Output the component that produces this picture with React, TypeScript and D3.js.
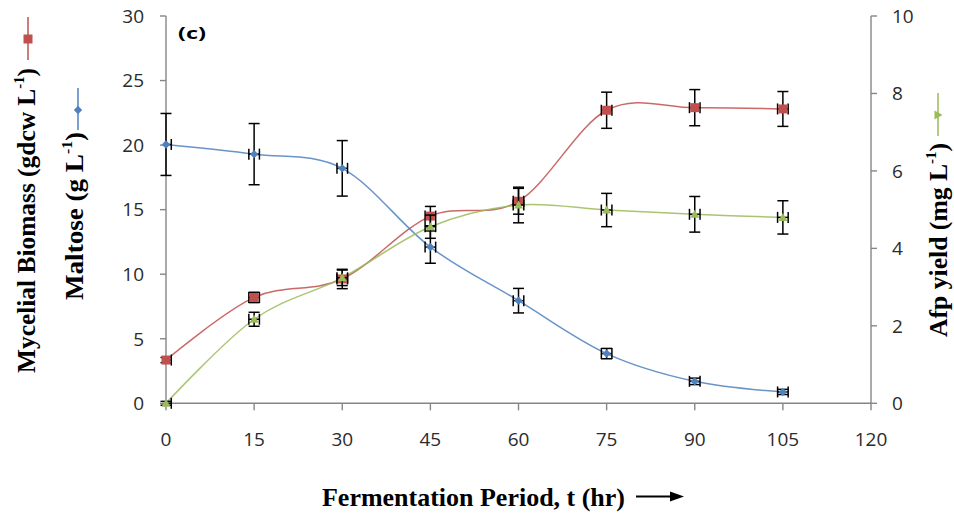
import React from 'react';
import * as d3 from 'd3';

// Sampling times (hr)
const hours = [0, 15, 30, 45, 60, 75, 90, 105];
// Mycelial biomass (gdcw/L) with standard deviation
const biomass = [3.35, 8.2, 9.63, 14.5, 15.65, 22.7, 22.9, 22.8];
const biomassErr = [0.2, 0.4, 0.75, 0.75, 1.0, 1.4, 1.4, 1.35];
// Residual maltose (g/L) with standard deviation
const maltose = [20.05, 19.3, 18.2, 12.1, 7.95, 3.85, 1.7, 0.88];
const maltoseErr = [2.4, 2.37, 2.15, 1.25, 0.95, 0.4, 0.25, 0.2];
// Afp yield (mg/L) with standard deviation
const afp = [0, 2.17, 3.24, 4.56, 5.12, 4.99, 4.88, 4.8];
const afpErr = [0.05, 0.18, 0.2, 0.3, 0.46, 0.43, 0.46, 0.43];
// Horizontal (time) error
const hourErr = 0.9;

const xTicks = [0, 15, 30, 45, 60, 75, 90, 105, 120];
const leftTicks = [0, 5, 10, 15, 20, 25, 30];
const rightTicks = [0, 2, 4, 6, 8, 10];

const RED = '#C0504D';
const BLUE = '#4F81BD';
const GREEN = '#9BBB59';
const AXIS = '#868686';

const W = 954;
const H = 516;
const left = 166;
const right = 871;
const top = 16;
const bottom = 403.3;

const x = d3.scaleLinear().domain([0, 120]).range([left, right]);
const yL = d3.scaleLinear().domain([0, 30]).range([bottom, top]);
const yR = d3.scaleLinear().domain([0, 10]).range([bottom, top]);

type Series = {
  key: string;
  values: number[];
  errs: number[];
  y: d3.ScaleLinear<number, number>;
  color: string;
  marker: 'square' | 'diamond' | 'triangle';
};

const series: Series[] = [
  { key: 'biomass', values: biomass, errs: biomassErr, y: yL, color: RED, marker: 'square' },
  { key: 'maltose', values: maltose, errs: maltoseErr, y: yL, color: BLUE, marker: 'diamond' },
  { key: 'afp', values: afp, errs: afpErr, y: yR, color: GREEN, marker: 'triangle' },
];

function Marker({ kind, cx, cy, color }: { kind: string; cx: number; cy: number; color: string }) {
  if (kind === 'square') {
    return <rect x={cx - 4.5} y={cy - 4.5} width={9} height={9} fill={color} />;
  }
  if (kind === 'diamond') {
    return <path d={`M${cx},${cy - 4.2}L${cx + 4.2},${cy}L${cx},${cy + 4.2}L${cx - 4.2},${cy}Z`} fill={color} />;
  }
  return <path d={`M${cx},${cy - 4.5}L${cx + 4.5},${cy + 3.5}L${cx - 4.5},${cy + 3.5}Z`} fill={color} />;
}

function ErrorBars({ s }: { s: Series }) {
  const cap = 5.5;
  return (
    <g stroke="#000" strokeWidth={1.5} fill="none">
      {hours.map((h, i) => {
        const cx = x(h);
        const cy = s.y(s.values[i]);
        const y1 = s.y(s.values[i] + s.errs[i]);
        const y2 = s.y(s.values[i] - s.errs[i]);
        const lo = Math.max(0, h - hourErr);
        const x1 = x(lo);
        const x2 = x(h + hourErr);
        return (
          <g key={i}>
            <line x1={cx} x2={cx} y1={y1} y2={y2} />
            <line x1={cx - cap} x2={cx + cap} y1={y1} y2={y1} />
            <line x1={cx - cap} x2={cx + cap} y1={y2} y2={y2} />
            <line x1={x1} x2={x2} y1={cy} y2={cy} />
            {h - hourErr >= 0 && <line x1={x1} x2={x1} y1={cy - cap} y2={cy + cap} />}
            <line x1={x2} x2={x2} y1={cy - cap} y2={cy + cap} />
          </g>
        );
      })}
    </g>
  );
}

function RotTitle({ cx, cy, len, main, after }: { cx: number; cy: number; len: number; main: string; after: string }) {
  return (
    <text
      transform={`translate(${cx},${cy}) rotate(-90)`}
      textAnchor="middle"
      fontFamily="'Liberation Serif', 'Times New Roman', serif"
      fontWeight="bold"
      fontSize={26}
      fill="#000"
      textLength={len}
      lengthAdjust="spacingAndGlyphs"
    >
      {main}
      <tspan fontSize={15} dy={-11}>-1</tspan>
      <tspan dy={11}>{after}</tspan>
    </text>
  );
}

export default function App() {
  const line = (s: Series) =>
    d3
      .line<number>()
      .x((_, i) => x(hours[i]))
      .y((v) => s.y(v))
      .curve(d3.curveCatmullRom.alpha(0))(s.values) || '';

  const tickFont = "'Open Sans', 'DejaVu Sans', sans-serif";
  const half = 6.8; // half digit height, to centre labels on their ticks

  return (
    <svg
      width={W}
      height={H}
      style={{ position: 'absolute', left: 0, top: 0, background: '#fff' }}
    >
      <rect width={W} height={H} fill="#fff" />

      {/* axes */}
      <g stroke={AXIS} strokeWidth={1.4} fill="none">
        <line x1={left} x2={left} y1={top} y2={bottom} />
        <line x1={right} x2={right} y1={top} y2={bottom} />
        <line x1={left} x2={right} y1={bottom} y2={bottom} />
        {leftTicks.map((t) => (
          <line key={`l${t}`} x1={left - 6} x2={left} y1={yL(t)} y2={yL(t)} />
        ))}
        {rightTicks.map((t) => (
          <line key={`r${t}`} x1={right} x2={right + 6} y1={yR(t)} y2={yR(t)} />
        ))}
        {xTicks.map((t) => (
          <line key={`x${t}`} x1={x(t)} x2={x(t)} y1={bottom} y2={bottom + 7} />
        ))}
      </g>

      {/* tick labels */}
      <g fontFamily={tickFont} fontSize={19} fill="#2b2b2b">
        {leftTicks.map((t) => (
          <text key={`lt${t}`} x={left - 22} y={yL(t) + half} textAnchor="end">
            {t}
          </text>
        ))}
        {rightTicks.map((t) => (
          <text key={`rt${t}`} x={right + 21} y={yR(t) + half} textAnchor="start">
            {t}
          </text>
        ))}
        {xTicks.map((t) => (
          <text key={`xt${t}`} x={x(t)} y={445.5} textAnchor="middle">
            {t}
          </text>
        ))}
      </g>

      {/* series lines */}
      {series.map((s) => (
        <path key={`p${s.key}`} d={line(s)} fill="none" stroke={s.color} strokeWidth={1.5} strokeOpacity={0.85} />
      ))}

      {/* error bars and markers */}
      {series.map((s) => (
        <g key={`m${s.key}`}>
          <ErrorBars s={s} />
          {hours.map((h, i) => (
            <Marker key={i} kind={s.marker} cx={x(h)} cy={s.y(s.values[i])} color={s.color} />
          ))}
        </g>
      ))}

      {/* panel label */}
      <text
        x={178}
        y={39}
        fontFamily="'Open Sans', 'DejaVu Sans', sans-serif"
        fontWeight="bold"
        fontSize={16}
        textLength={28}
        lengthAdjust="spacingAndGlyphs"
        fill="#000"
      >
        (c)
      </text>

      {/* axis titles with series keys */}
      <g>
        <line x1={28} x2={28} y1={17} y2={60} stroke={RED} strokeWidth={1.5} />
        <Marker kind="square" cx={28} cy={39} color={RED} />
        <RotTitle cx={35} cy={220.5} len={305} main="Mycelial Biomass (gdcw L" after=")" />

        <line x1={78} x2={78} y1={88} y2={130} stroke={BLUE} strokeWidth={1.5} />
        <Marker kind="diamond" cx={78} cy={110} color={BLUE} />
        <RotTitle cx={83} cy={216} len={168} main="Maltose (g L" after=")" />

        <line x1={938} x2={938} y1={93} y2={136} stroke={GREEN} strokeWidth={1.5} />
        <g transform="translate(938,115) rotate(90) translate(-938,-115)">
          <Marker kind="triangle" cx={938} cy={115} color={GREEN} />
        </g>
        <RotTitle cx={947} cy={240} len={194} main="Afp yield (mg L" after=")" />
      </g>

      {/* x axis title and arrow */}
      <text
        x={473.5}
        y={506}
        textAnchor="middle"
        fontFamily="'Liberation Serif', 'Times New Roman', serif"
        fontWeight="bold"
        fontSize={26}
        textLength={303}
        lengthAdjust="spacingAndGlyphs"
        fill="#000"
      >
        Fermentation Period, t (hr)
      </text>
      <line x1={636} x2={674} y1={496.5} y2={496.5} stroke="#000" strokeWidth={2} />
      <path d="M670,491.5L684,496.5L670,501.5Z" fill="#000" />
    </svg>
  );
}
